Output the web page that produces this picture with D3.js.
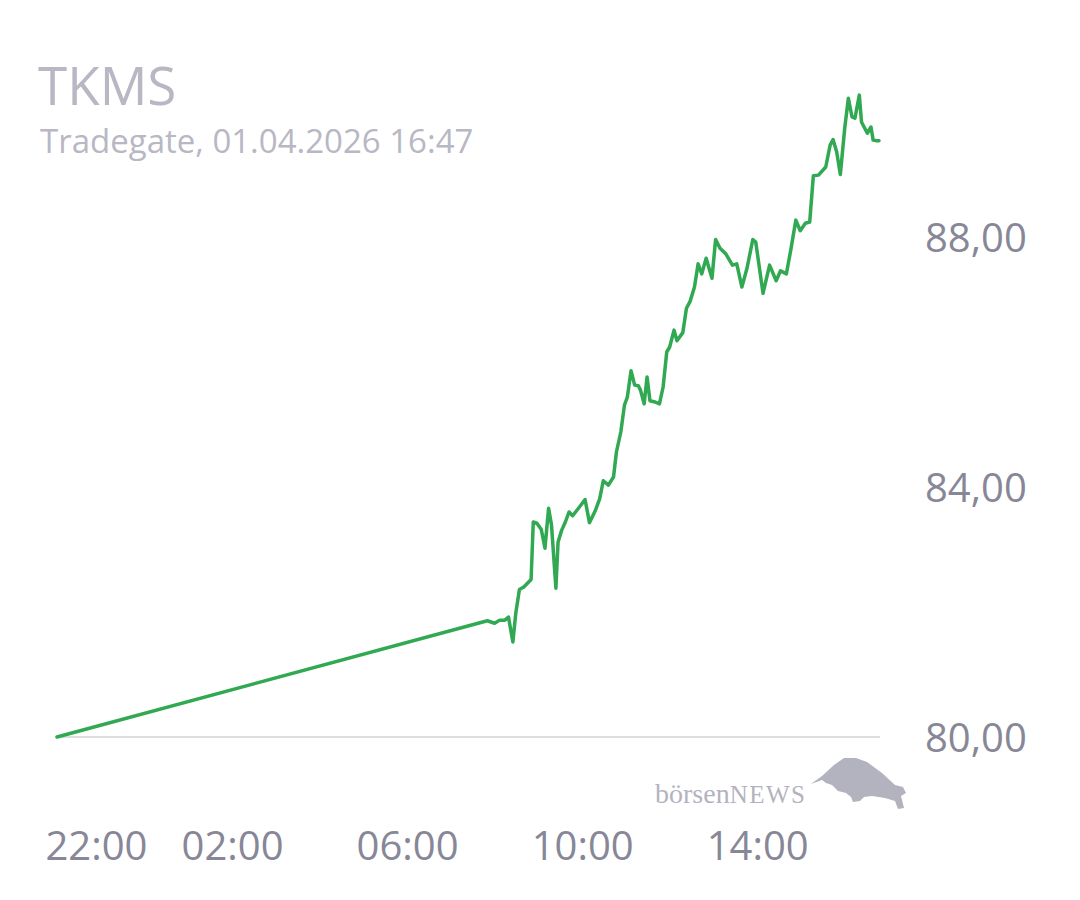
<!DOCTYPE html>
<html><head><meta charset="utf-8">
<script src="https://cdn.jsdelivr.net/npm/d3@7"></script>
<style>
html,body{margin:0;padding:0;background:#fff;}
svg{display:block;}
text{font-family:"Open Sans",sans-serif;}
text.logo{font-family:"Liberation Serif","DejaVu Serif",serif;}
</style></head>
<body><svg id="c" width="1080" height="900"></svg>
<script>
const title = "TKMS";
const subtitle = "Tradegate, 01.04.2026 16:47";
const times = ["2026-03-31 22:00","2026-04-01 07:50","2026-04-01 08:00","2026-04-01 08:07","2026-04-01 08:14","2026-04-01 08:19","2026-04-01 08:25","2026-04-01 08:29","2026-04-01 08:34","2026-04-01 08:40","2026-04-01 08:50","2026-04-01 08:53","2026-04-01 08:58","2026-04-01 09:04","2026-04-01 09:09","2026-04-01 09:14","2026-04-01 09:18","2026-04-01 09:24","2026-04-01 09:27","2026-04-01 09:32","2026-04-01 09:37","2026-04-01 09:42","2026-04-01 09:47","2026-04-01 09:55","2026-04-01 10:04","2026-04-01 10:10","2026-04-01 10:18","2026-04-01 10:24","2026-04-01 10:29","2026-04-01 10:36","2026-04-01 10:43","2026-04-01 10:47","2026-04-01 10:53","2026-04-01 10:58","2026-04-01 11:02","2026-04-01 11:07","2026-04-01 11:12","2026-04-01 11:17","2026-04-01 11:20","2026-04-01 11:25","2026-04-01 11:29","2026-04-01 11:33","2026-04-01 11:40","2026-04-01 11:46","2026-04-01 11:51","2026-04-01 11:56","2026-04-01 12:00","2026-04-01 12:06","2026-04-01 12:10","2026-04-01 12:18","2026-04-01 12:23","2026-04-01 12:28","2026-04-01 12:34","2026-04-01 12:39","2026-04-01 12:44","2026-04-01 12:50","2026-04-01 12:58","2026-04-01 13:03","2026-04-01 13:09","2026-04-01 13:17","2026-04-01 13:26","2026-04-01 13:32","2026-04-01 13:39","2026-04-01 13:46","2026-04-01 13:54","2026-04-01 13:58","2026-04-01 14:08","2026-04-01 14:17","2026-04-01 14:26","2026-04-01 14:32","2026-04-01 14:40","2026-04-01 14:46","2026-04-01 14:53","2026-04-01 14:59","2026-04-01 15:06","2026-04-01 15:12","2026-04-01 15:17","2026-04-01 15:24","2026-04-01 15:34","2026-04-01 15:40","2026-04-01 15:44","2026-04-01 15:49","2026-04-01 15:54","2026-04-01 16:00","2026-04-01 16:05","2026-04-01 16:10","2026-04-01 16:14","2026-04-01 16:20","2026-04-01 16:23","2026-04-01 16:31","2026-04-01 16:36","2026-04-01 16:39","2026-04-01 16:44","2026-04-01 16:47"];
const prices = [80.00,81.86,81.82,81.87,81.87,81.92,81.52,81.98,82.36,82.40,82.52,83.44,83.42,83.32,83.02,83.66,83.39,82.38,83.12,83.31,83.44,83.60,83.54,83.66,83.80,83.43,83.62,83.81,84.10,84.03,84.16,84.56,84.88,85.31,85.44,85.86,85.63,85.62,85.55,85.33,85.76,85.38,85.36,85.33,85.60,86.16,86.24,86.51,86.34,86.47,86.86,86.97,87.20,87.57,87.41,87.66,87.34,87.96,87.82,87.73,87.55,87.57,87.20,87.50,87.96,87.92,87.10,87.55,87.30,87.46,87.41,87.79,88.27,88.10,88.22,88.24,88.98,88.99,89.12,89.47,89.56,89.36,89.00,89.74,90.22,89.92,89.90,90.27,89.84,89.66,89.76,89.55,89.54,89.54];
const xTickTimes = ["2026-03-31 22:00","2026-04-01 02:00","2026-04-01 06:00","2026-04-01 10:00","2026-04-01 14:00"];
const xTickLabels = ["22:00","02:00","06:00","10:00","14:00"];
const yTicks = [80, 84, 88];
const yTickLabels = ["80,00","84,00","88,00"];

const parse = d3.timeParse("%Y-%m-%d %H:%M");
const data = times.map((t,i)=>({t:parse(t), v:prices[i]}));
const svg = d3.select("#c");

const x = d3.scaleTime().domain([parse(times[0]), parse(times[times.length-1])]).range([57, 879]);
const y = d3.scaleLinear().domain([80, 88]).range([737, 237]);

// title
svg.append("text").attr("x",38).attr("y",105).attr("font-size",53).attr("fill","#b8b7c4").text(title);
svg.append("text").attr("x",40).attr("y",153).attr("font-size",33).attr("fill","#b8b7c4").text(subtitle);

// baseline
svg.append("line").attr("x1",57).attr("x2",880).attr("y1",y(80)).attr("y2",y(80))
  .attr("stroke","#dedede").attr("stroke-width",2);

// y axis labels (right)
const yAxis = d3.axisRight(y).tickValues(yTicks).tickSize(0).tickPadding(0)
  .tickFormat(d=>yTickLabels[yTicks.indexOf(d)]);
const gy = svg.append("g").attr("transform","translate(925,0)").call(yAxis);
gy.select(".domain").remove();
gy.selectAll("text").attr("font-size",40).attr("fill","#878797").attr("font-family","Open Sans").attr("dy","0.35em").attr("x",0);

// x axis labels
const xTicks = xTickTimes.map(parse);
const xAxis = d3.axisBottom(x).tickValues(xTicks).tickSize(0).tickPadding(0)
  .tickFormat((d,i)=>xTickLabels[i]);
const gx = svg.append("g").attr("transform","translate(0,832)").call(xAxis);
gx.select(".domain").remove();
gx.selectAll("text").attr("font-size",40).attr("fill","#878797").attr("font-family","Open Sans").attr("dy","0.71em");
gx.selectAll(".tick").filter((d,i)=>i===0).select("text").attr("text-anchor","start").attr("x",-12);

// line
const line = d3.line().x(d=>x(d.t)).y(d=>y(d.v));
svg.append("path").datum(data).attr("d",line).attr("fill","none")
  .attr("stroke","#31a852").attr("stroke-width",3.5).attr("stroke-linejoin","round").attr("stroke-linecap","round");

// logo
const logo = svg.append("g");
const lt = logo.append("text").attr("class","logo").attr("x",655).attr("y",803).attr("fill","#b3b3bf");
lt.append("tspan").attr("font-size",28).text("börsen");
lt.append("tspan").attr("font-size",25).attr("letter-spacing",1.5).text("NEWS");
logo.append("path").attr("fill","#b3b3bf")
  .attr("d","M811,784 L822,776 L834,765 L844,758 L856,758 L867,762 L882,773 L895,785 L903,787 L906,793 L901,796 L904,808 L898,809 L895,801 L885,798 L872,796 L864,797 L860,801 L853,802 L851,797 L846,793 L838,791 L832,785 L826,783 L822,780 Z");
</script></body></html>
